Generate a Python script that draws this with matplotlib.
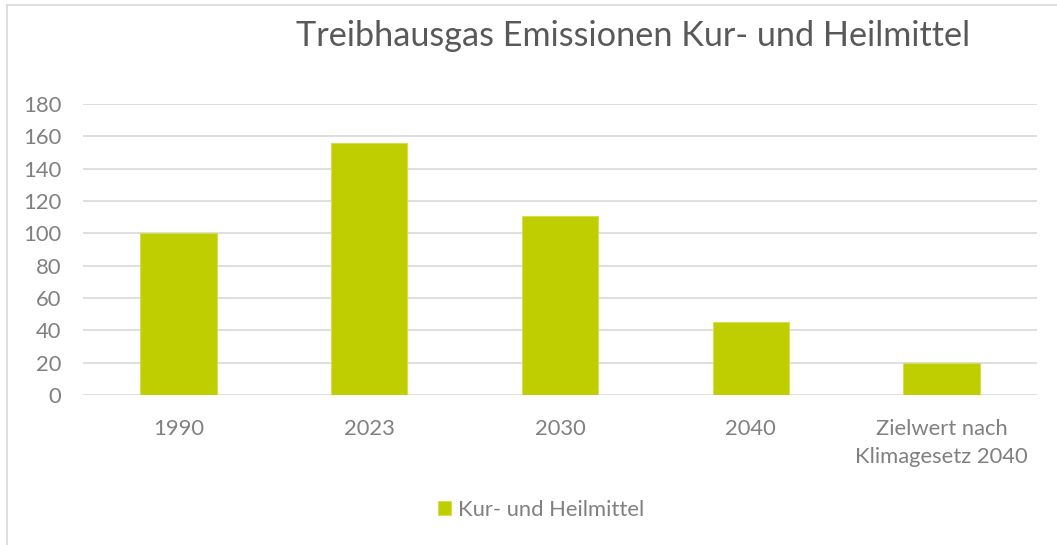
import matplotlib
matplotlib.use("Agg")
import matplotlib.pyplot as plt
from matplotlib.patches import Rectangle

categories = ["1990", "2023", "2030", "2040", "Zielwert nach\nKlimagesetz 2040"]
values = [100, 156, 111, 45, 20]
yticks = [0, 20, 40, 60, 80, 100, 120, 140, 160, 180]
series_name = "Kur- und Heilmittel"
title = "Treibhausgas Emissionen Kur- und Heilmittel"

W, H = 1057, 545
plt.rcParams['font.family'] = ['Lato', 'DejaVu Sans']
fig = plt.figure(figsize=(W/100, H/100), dpi=100)
txt = "#808080"
title_color = "#595959"
bar_color = "#BFCE00"

# chart-area border
fig.patches.append(Rectangle((7/W, -0.05), 1.1, 1 - 5/H + 0.05, transform=fig.transFigure,
                             fill=False, edgecolor="#D9D9D9", linewidth=1.2))

ax = fig.add_axes([83/W, 1 - 395/H, (1037-83)/W, (395-104)/H])
x = range(len(categories))
ax.bar(x, values, width=0.4, color=bar_color, edgecolor="#D4DE55", linewidth=0.8, zorder=3,
       label=series_name)
ax.set_xlim(-0.5, len(categories) - 0.5)
ax.set_ylim(0, 180)
ax.set_yticks(yticks)
ax.set_yticklabels([str(v) for v in yticks])
ax.set_xticks(list(x))
ax.set_xticklabels(categories, linespacing=1.55)
ax.grid(axis='y', color="#D9D9D9", linewidth=1.2, zorder=0)
for s in ax.spines.values():
    s.set_visible(False)
ax.tick_params(axis='both', length=0, colors=txt, labelsize=15.8)
ax.tick_params(axis='y', pad=15.5)
ax.tick_params(axis='x', pad=17)

fig.text(633/W, 1 - 36/H, title, ha='center', va='center', fontsize=24.7, color=title_color)

leg = fig.legend(loc='center', bbox_to_anchor=(541/W, 1 - 510/H), frameon=False,
                 fontsize=15.8, handlelength=0.6, handleheight=0.6, handletextpad=0.3,
                 labelcolor=txt)

fig.savefig("out.png", dpi=100, facecolor="white")
